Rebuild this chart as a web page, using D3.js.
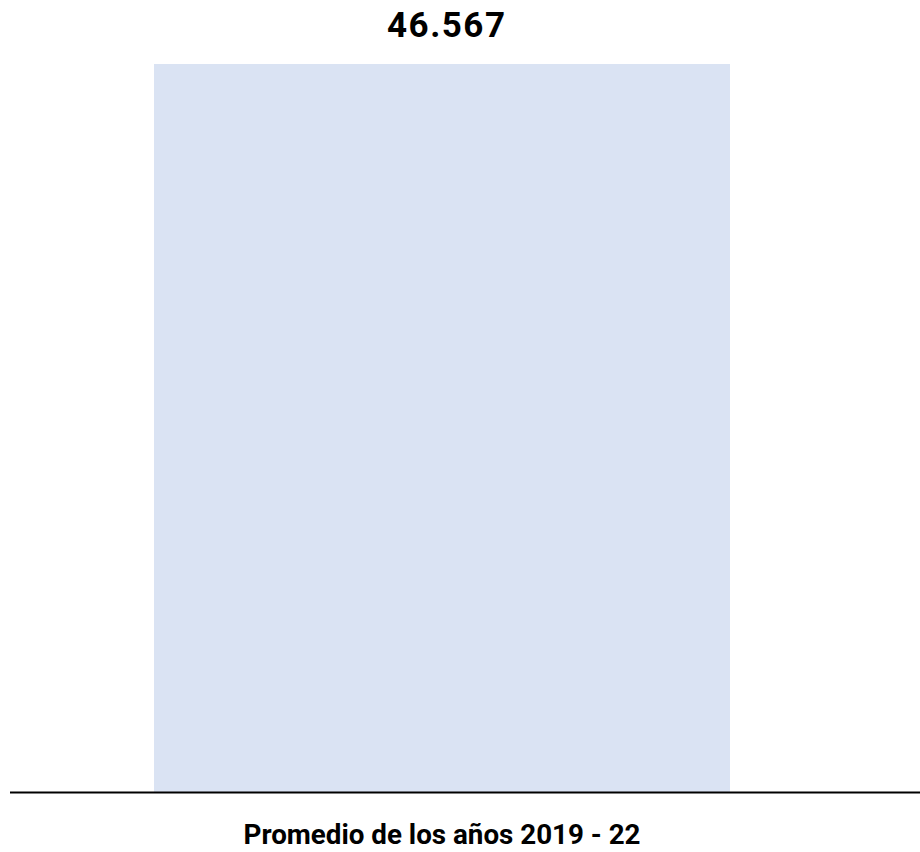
<!DOCTYPE html>
<html>
<head>
<meta charset="utf-8">
<script src="https://cdn.jsdelivr.net/npm/d3@7"></script>
<style>
  html, body { margin: 0; padding: 0; background: #ffffff; }
  svg { display: block; }
  text { font-family: Roboto, "Noto Sans", sans-serif; font-weight: 700; fill: #000; }
</style>
</head>
<body>
<script>
// Chart data
const categories = ["Promedio de los años 2019 - 22"];
const values = [46567];
const valueLabels = ["46.567"];

const width = 920, height = 852;
const baseY = 792, topY = 64;

const svg = d3.select("body").append("svg")
  .attr("width", width)
  .attr("height", height);

const x = d3.scaleBand()
  .domain(categories)
  .range([10, 874])
  .paddingInner(0.2)
  .paddingOuter(0.2);

const y = d3.scaleLinear()
  .domain([0, d3.max(values)])
  .range([baseY, topY]);

// Bars
svg.append("g").selectAll("rect")
  .data(categories)
  .join("rect")
  .attr("x", d => x(d))
  .attr("width", x.bandwidth())
  .attr("y", (d, i) => y(values[i]))
  .attr("height", (d, i) => y(0) - y(values[i]))
  .attr("fill", "#dae3f3");

// Value labels above bars
svg.append("g").selectAll("text")
  .data(categories)
  .join("text")
  .attr("x", d => x(d) + x.bandwidth() / 2 + 4)
  .attr("y", (d, i) => y(values[i]) - 27)
  .attr("text-anchor", "middle")
  .attr("font-size", 35)
  .attr("textLength", 118)
  .attr("lengthAdjust", "spacing")
  .text((d, i) => valueLabels[i]);

// Baseline
svg.append("line")
  .attr("x1", 10).attr("x2", 920)
  .attr("y1", baseY + 0.5).attr("y2", baseY + 0.5)
  .attr("stroke", "#000")
  .attr("stroke-width", 2.2);

// Category axis
const axis = svg.append("g")
  .attr("transform", `translate(0,${baseY})`)
  .call(d3.axisBottom(x).tickSize(0).tickPadding(32));
axis.select(".domain").remove();
axis.selectAll("text")
  .attr("font-size", 28)
  .attr("fill", "#000")
  .attr("textLength", 397)
  .attr("lengthAdjust", "spacingAndGlyphs")
  .style("font-family", "Roboto, 'Noto Sans', sans-serif")
  .style("font-weight", 700);
</script>
</body>
</html>
